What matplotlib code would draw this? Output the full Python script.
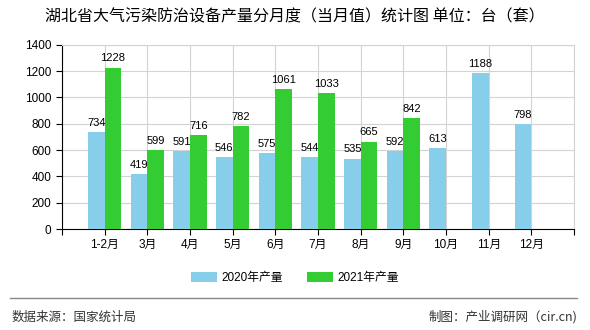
import matplotlib.pyplot as plt
import numpy as np

plt.rcParams['font.family'] = ['Liberation Sans', 'Noto Sans CJK SC', 'DejaVu Sans']

months = ["1-2月", "3月", "4月", "5月", "6月", "7月", "8月", "9月", "10月", "11月", "12月"]
y2020 = [734, 419, 591, 546, 575, 544, 535, 592, 613, 1188, 798]
y2021 = [1228, 599, 716, 782, 1061, 1033, 665, 842]

fig = plt.figure(figsize=(5.9, 3.3), dpi=100)
ax = fig.add_axes([0.105, 0.306, 0.868, 0.558])

x = np.arange(1, len(months) + 1)
w = 0.39
b1 = ax.bar(x - w / 2, y2020, w, color="#87ceeb", label="2020年产量", zorder=3)
b2 = ax.bar(x[:len(y2021)] + w / 2, y2021, w, color="#33cc33", label="2021年产量", zorder=3)

for rect, v in zip(b1, y2020):
    ax.annotate(str(v), (rect.get_x() + rect.get_width() / 2, v), xytext=(0, 3),
                textcoords="offset points", ha="center", va="bottom", fontsize=8)
for rect, v in zip(b2, y2021):
    ax.annotate(str(v), (rect.get_x() + rect.get_width() / 2, v), xytext=(0, 3),
                textcoords="offset points", ha="center", va="bottom", fontsize=8)

ax.set_xlim(0, 12)
ax.set_ylim(0, 1400)
ax.set_yticks(range(0, 1401, 200))
ax.set_xticks(range(0, 13))
ax.set_xticklabels([""] + months + [""], fontsize=8.5)
ax.tick_params(axis="y", labelsize=8.5, length=4, width=0.8)
ax.tick_params(axis="x", length=4, width=0.8)
ax.grid(True, color="#d3d3d3", linewidth=0.8, zorder=0)
for s in ["top", "right"]:
    ax.spines[s].set_color("#d3d3d3")
for s in ["left", "bottom"]:
    ax.spines[s].set_color("black")

fig.text(0.5, 0.948, "湖北省大气污染防治设备产量分月度（当月值）统计图 单位：台（套）",
         ha="center", va="center", fontsize=11.5, family=["Noto Sans CJK SC", "DejaVu Sans"])

fig.legend(handles=[b1, b2], loc="center", bbox_to_anchor=(0.5, 0.158), ncol=2,
           frameon=False, fontsize=8.5, handlelength=2.2, handleheight=0.9,
           columnspacing=2.0, handletextpad=0.4)

fig.add_artist(plt.Line2D([0.017, 0.978], [0.097, 0.097], color="#888888", linewidth=1))
fig.text(0.02, 0.04, "数据来源：国家统计局", ha="left", va="center", fontsize=9,
         color="#333333", family=["Noto Sans CJK SC", "DejaVu Sans"])
fig.text(0.978, 0.04, "制图：产业调研网（cir.cn)", ha="right", va="center", fontsize=9,
         color="#333333", family=["Noto Sans CJK SC", "DejaVu Sans"])

fig.savefig("out.png", dpi=100)
